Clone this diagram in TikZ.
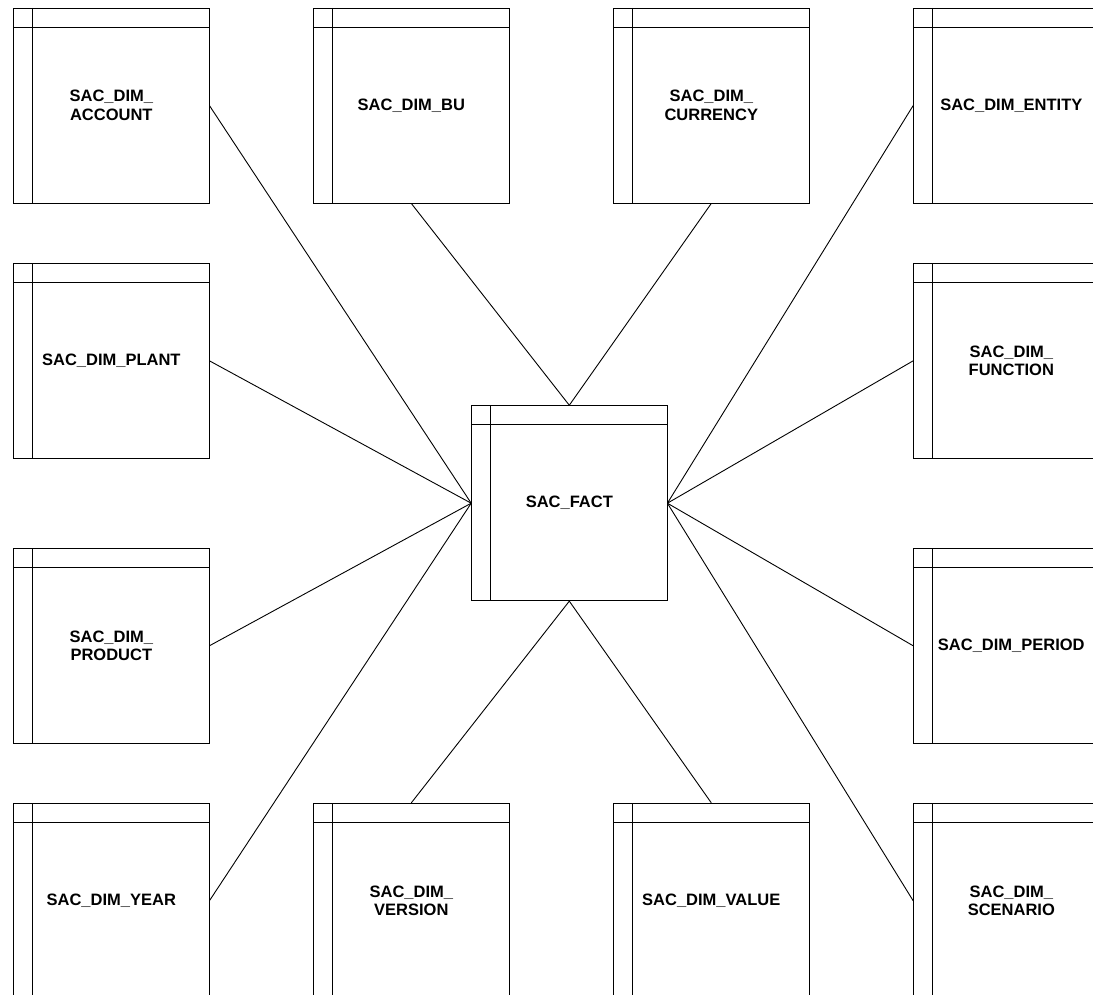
\documentclass[tikz,border=0pt]{standalone}
\usepackage{fontspec}
\setmainfont{Liberation Sans}
\usepackage{tikz}
\usetikzlibrary{positioning}

\begin{document}
\begin{tikzpicture}[node distance={300pt},
        tbl/.style = {draw, rectangle, line width=0.9pt, inner sep=0pt,
            minimum width=195.3pt, minimum height=195pt, text width=185pt, align=center,
            font=\bfseries\fontsize{16.5}{18.5}\selectfont,
            path picture={
                \draw[line width=0.9pt] ([yshift=-19pt]path picture bounding box.north west) -- ([yshift=-19pt]path picture bounding box.north east);
                \draw[line width=0.9pt] ([xshift=19pt]path picture bounding box.north west) -- ([xshift=19pt]path picture bounding box.south west);
            }}]
            \useasboundingbox (0,0) rectangle (1093pt,-995pt);
            \clip (0,0) rectangle (1093pt,-995pt);

            \node[tbl] (acc) at (111.3pt,-105.5pt) {SAC\_DIM\_\\ACCOUNT};
            \node[tbl] (bu) [right of=acc] {SAC\_DIM\_BU};
            \node[tbl] (cur) [right of=bu] {SAC\_DIM\_\\CURRENCY};
            \node[tbl] (ent) [right of=cur] {SAC\_DIM\_ENTITY};

            \node[tbl] (plant) [below of=acc, node distance=255.3pt] {SAC\_DIM\_PLANT};
            \node[tbl] (prod) [below of=plant, node distance=285pt] {SAC\_DIM\_\\PRODUCT};
            \node[tbl] (year) [below of=prod, node distance=255pt] {SAC\_DIM\_YEAR};
            \node[tbl] (ver) [right of=year] {SAC\_DIM\_\\VERSION};
            \node[tbl] (val) [right of=ver] {SAC\_DIM\_VALUE};

            \node[tbl] (func) [below of=ent, node distance=255.3pt] {SAC\_DIM\_\\FUNCTION};
            \node[tbl] (per) [below of=func, node distance=285pt] {SAC\_DIM\_PERIOD};
            \node[tbl] (scen) [below of=per, node distance=255pt] {SAC\_DIM\_\\SCENARIO};

            \node[tbl] (fact) at (569.3pt,-503.2pt) {SAC\_FACT};

            \path[line width=0.9pt] (acc.east) edge (fact.west);
            \path[line width=0.9pt] (plant.east) edge (fact.west);
            \path[line width=0.9pt] (prod.east) edge (fact.west);
            \path[line width=0.9pt] (year.east) edge (fact.west);
            \path[line width=0.9pt] (bu.south) edge (fact.north);
            \path[line width=0.9pt] (cur.south) edge (fact.north);
            \path[line width=0.9pt] (ver.north) edge (fact.south);
            \path[line width=0.9pt] (val.north) edge (fact.south);
            \path[line width=0.9pt] (ent.west) edge (fact.east);
            \path[line width=0.9pt] (func.west) edge (fact.east);
            \path[line width=0.9pt] (per.west) edge (fact.east);
            \path[line width=0.9pt] (scen.west) edge (fact.east);
        \end{tikzpicture}
\end{document}
